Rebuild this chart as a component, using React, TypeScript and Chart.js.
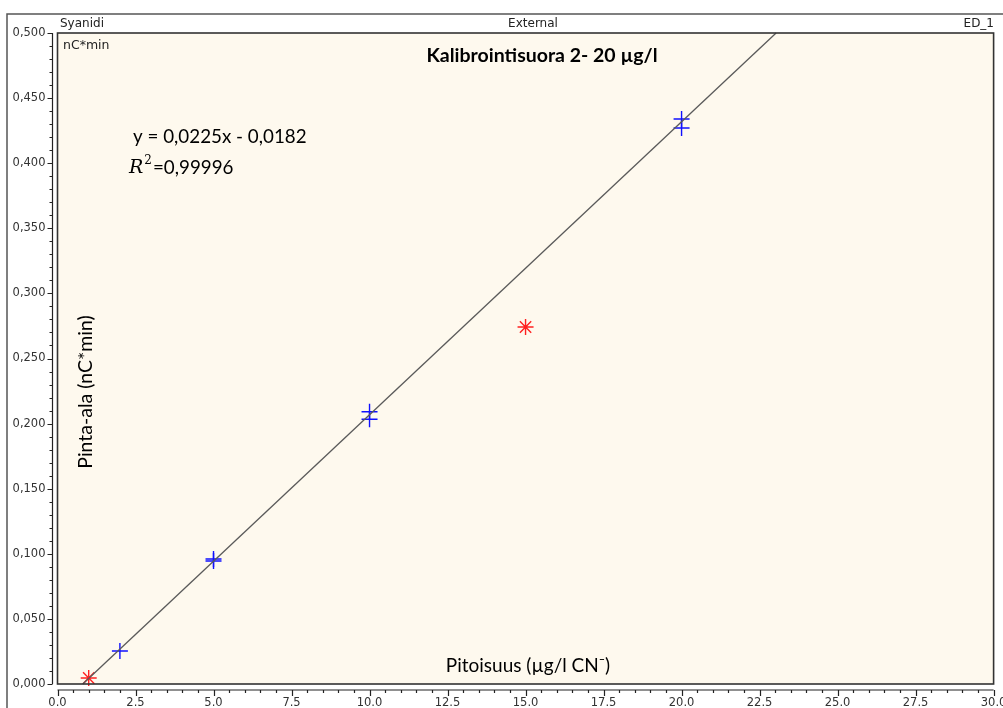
import React, { useEffect, useRef } from "react";
import { Chart, registerables } from "chart.js";

Chart.register(...registerables);

const standardX = [2, 5, 5, 10, 10, 20, 20];
const standardY = [0.0253, 0.096, 0.0945, 0.2091, 0.2033, 0.434, 0.427];
const excludedX = [1, 15];
const excludedY = [0.0046, 0.2742];
const fitLineX = [0.809, 23.03];
const fitLineY = [0.0, 0.5];
const xMin = 0, xMax = 30, xStep = 2.5;
const yMin = 0, yMax = 0.5, yStep = 0.05;

const headerLeft = "Syanidi";
const headerCenter = "External";
const headerRight = "ED_1";
const unitLabel = "nC*min";
const chartTitle = "Kalibrointisuora 2- 20 µg/l";
const equationText = "y = 0,0225x - 0,0182";
const r2Text = "=0,99996";
const yTitle = "Pinta-ala (nC*min)";
const xTitle = "Pitoisuus (µg/l CN⁻)";

const smallFont = "'DejaVu Sans', Verdana, sans-serif";
const bigFont = "Lato, 'Open Sans', sans-serif";

const decor = {
  id: "decor",
  beforeDraw(chart: any) {
    const ctx = chart.ctx;
    const a = chart.chartArea;
    ctx.save();
    ctx.fillStyle = "#ffffff";
    ctx.fillRect(0, 0, chart.width, chart.height);
    ctx.strokeStyle = "#555";
    ctx.lineWidth = 1.5;
    ctx.beginPath();
    ctx.moveTo(7, chart.height);
    ctx.lineTo(7, 14);
    ctx.lineTo(chart.width, 14);
    ctx.stroke();
    ctx.fillStyle = "#fef9ee";
    ctx.fillRect(a.left, a.top, a.right - a.left, a.bottom - a.top);
    ctx.restore();
  },
  afterDraw(chart: any) {
    const ctx = chart.ctx;
    const a = chart.chartArea;
    const xs = chart.scales.x;
    const ys = chart.scales.y;
    ctx.save();
    ctx.strokeStyle = "#333";
    ctx.lineWidth = 1.6;
    ctx.strokeRect(a.left, a.top, a.right - a.left, a.bottom - a.top);
    ctx.strokeStyle = "#222";
    ctx.lineWidth = 1.2;
    const yAxisX = a.left - 5;
    ctx.beginPath();
    ctx.moveTo(yAxisX, ys.getPixelForValue(yMax));
    ctx.lineTo(yAxisX, ys.getPixelForValue(yMin));
    const nY = Math.round((yMax - yMin) / (yStep / 5));
    for (let i = 0; i <= nY; i++) {
      const v = yMin + (i * yStep) / 5;
      const p = Math.round(ys.getPixelForValue(v)) + 0.5;
      const len = i % 5 === 0 ? 5 : 3;
      ctx.moveTo(yAxisX, p);
      ctx.lineTo(yAxisX - len, p);
    }
    ctx.stroke();
    const xAxisY = a.bottom + 6;
    ctx.beginPath();
    ctx.moveTo(xs.getPixelForValue(xMin), xAxisY);
    ctx.lineTo(xs.getPixelForValue(xMax), xAxisY);
    const nX = Math.round((xMax - xMin) / (xStep / 5));
    for (let i = 0; i <= nX; i++) {
      const v = xMin + (i * xStep) / 5;
      const p = Math.round(xs.getPixelForValue(v)) + 0.5;
      const len = i % 5 === 0 ? 6 : 3;
      ctx.moveTo(p, xAxisY);
      ctx.lineTo(p, xAxisY + len);
    }
    ctx.stroke();
    ctx.fillStyle = "#222";
    ctx.font = `12px ${smallFont}`;
    ctx.textBaseline = "middle";
    ctx.textAlign = "left";
    ctx.fillText(headerLeft, 60, 24);
    ctx.textAlign = "center";
    ctx.fillText(headerCenter, 533, 24);
    ctx.textAlign = "right";
    ctx.fillText(headerRight, 994, 24);
    ctx.textAlign = "left";
    ctx.font = `12.5px ${smallFont}`;
    ctx.fillText(unitLabel, 63, 46);
    ctx.fillStyle = "#000";
    ctx.font = `bold 19.5px ${bigFont}`;
    ctx.textAlign = "center";
    ctx.fillText(chartTitle, 542, 56);
    ctx.font = `18.8px ${bigFont}`;
    ctx.textAlign = "left";
    ctx.fillText(equationText, 133, 137);
    ctx.font = "italic 19px 'DejaVu Serif', serif";
    ctx.fillText("R", 129, 168);
    const rw = ctx.measureText("R").width;
    ctx.font = "12px 'DejaVu Serif', serif";
    ctx.fillText("2", 129 + rw + 1, 161);
    const sw = ctx.measureText("2").width;
    ctx.font = `18.8px ${bigFont}`;
    ctx.fillText(r2Text, 129 + rw + sw + 2, 168);
    ctx.font = `19px ${bigFont}`;
    ctx.textAlign = "center";
    ctx.fillText(xTitle, 528, 666);
    ctx.translate(86, 392);
    ctx.rotate(-Math.PI / 2);
    ctx.font = `19.5px ${bigFont}`;
    ctx.fillText(yTitle, 0, 0);
    ctx.restore();
  },
};

export default function App() {
  const ref = useRef<HTMLCanvasElement>(null);
  useEffect(() => {
    document.body.style.margin = "0";
    const canvas = ref.current!;
    const chart = new Chart(canvas, {
      type: "scatter",
      data: {
        datasets: [
          {
            type: "line",
            data: fitLineX.map((x, i) => ({ x, y: fitLineY[i] })),
            borderColor: "#5a5a5a",
            borderWidth: 1.3,
            pointRadius: 0,
            fill: false,
          } as any,
          {
            data: standardX.map((x, i) => ({ x, y: standardY[i] })),
            pointStyle: "cross",
            pointRadius: 8,
            borderColor: "#1010ff",
            backgroundColor: "#1010ff",
            pointBorderWidth: 1.4,
          },
          {
            data: excludedX.map((x, i) => ({ x, y: excludedY[i] })),
            pointStyle: "star",
            pointRadius: 8,
            borderColor: "#ff2020",
            backgroundColor: "#ff2020",
            pointBorderWidth: 1.4,
          },
        ],
      },
      plugins: [decor],
      options: {
        animation: false,
        responsive: false,
        devicePixelRatio: 1,
        clip: false as any,
        layout: { padding: { left: 0, top: 33, right: 6.5, bottom: 0 } },
        plugins: { legend: { display: false }, tooltip: { enabled: false } },
        scales: {
          x: {
            type: "linear",
            min: xMin,
            max: xMax,
            afterFit: (s: any) => {
              s.height = 24;
              s.paddingLeft = 0;
              s.paddingRight = 0;
            },
            grid: { display: false, drawTicks: false },
            border: { display: false },
            ticks: {
              stepSize: xStep,
              padding: 12,
              autoSkip: false,
              maxRotation: 0,
              color: "#333",
              font: { family: smallFont, size: 11.5 },
              callback: (v: any) => Number(v).toFixed(1),
            },
          },
          y: {
            type: "linear",
            min: yMin,
            max: yMax,
            afterFit: (s: any) => {
              s.width = 57.5;
              s.paddingTop = 0;
              s.paddingBottom = 0;
            },
            grid: { display: false, drawTicks: false },
            border: { display: false },
            ticks: {
              stepSize: yStep,
              padding: 12,
              autoSkip: false,
              color: "#333",
              font: { family: smallFont, size: 11.5 },
              callback: (v: any) => Number(v).toFixed(3).replace(".", ","),
            },
          },
        },
      },
    });
    return () => chart.destroy();
  }, []);
  return (
    <div style={{ width: 1003, height: 708 }}>
      <canvas ref={ref} width={1003} height={708} style={{ display: "block" }} />
    </div>
  );
}
